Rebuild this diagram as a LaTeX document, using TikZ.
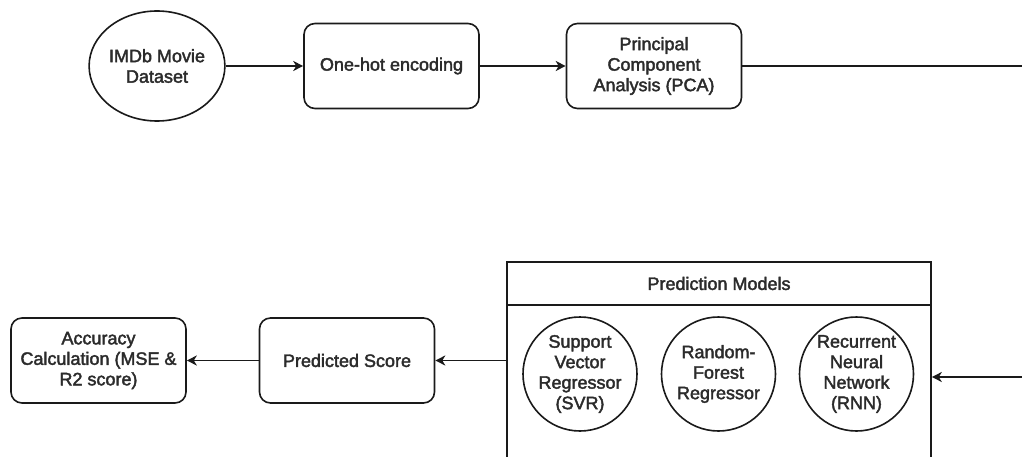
\documentclass[tikz,border=0pt]{standalone}
\usepackage{fontspec}
\setmainfont{Liberation Sans}
\newfontfamily\heavyfont{Liberation Sans}[FakeBold=2.2]
\usetikzlibrary{arrows.meta,shapes.geometric}
\definecolor{txt}{HTML}{2B2B2B}
\definecolor{ln}{HTML}{1A1A1A}
\tikzset{
  base/.style={draw=ln, line width=1.6pt, font=\heavyfont\fontsize{18}{20.5}\selectfont, text=txt, align=center, inner sep=0pt},
  roundbox/.style={base, rectangle, rounded corners=11pt, minimum width=175pt, minimum height=85pt},
  ovalnode/.style={base, ellipse, minimum width=118pt, minimum height=110pt},
  modelnode/.style={base, circle, minimum size=114pt},
  container/.style={draw=ln, line width=1.6pt, rectangle, minimum width=424pt, minimum height=230pt, inner sep=0pt},
  titletext/.style={font=\heavyfont\fontsize{18}{20.5}\selectfont, text=txt, inner sep=0pt},
  conn/.style={draw=ln, line width=1.6pt},
  arr/.style={conn, -{Stealth[length=10pt,width=10pt,inset=3pt]}}
}
\begin{document}
\begin{tikzpicture}[x=1pt,y=-1pt]
\clip (0,0) rectangle (1022,457);
\fill[white] (0,0) rectangle (1022,457);
% top row
\node[ovalnode] (imdb) at (157,66) {IMDb Movie\\Dataset};
\node[roundbox] (oh) at (391.5,66) {One-hot encoding};
\node[roundbox] (pca) at (654,66) {Principal\\Component\\Analysis (PCA)};
\coordinate (outR) at (1030,66);
\draw[arr] (imdb) -- (oh);
\draw[arr] (oh) -- (pca);
\draw[conn] (pca.east) -- (outR);
% bottom row
\node[roundbox] (acc) at (98.5,360.5) {Accuracy\\Calculation (MSE \&\\R2 score)};
\node[roundbox] (ps) at (347,360.5) {Predicted Score};
\node[container] (pm) at (719,377) {};
\coordinate (hdl) at (507,305);
\coordinate (hdr) at (931,305);
\draw[conn] (hdl -| pm.west) -- (hdr -| pm.east);
\node[titletext] (pmtitle) at (719,283.5) {Prediction Models};
\node[modelnode] (svr) at (580,374) {Support\\Vector\\Regressor\\(SVR)};
\node[modelnode] (rf) at (718.5,374) {Random-\\Forest\\Regressor};
\node[modelnode] (rnn) at (856.5,374) {Recurrent\\Neural\\Network\\(RNN)};
\coordinate (inR) at (1030,377);
\draw[arr] (inR) -- (inR -| pm.east);
\draw[arr] (ps.east -| pm.west) -- (ps.east);
\draw[arr] (ps) -- (acc);
\end{tikzpicture}
\end{document}
